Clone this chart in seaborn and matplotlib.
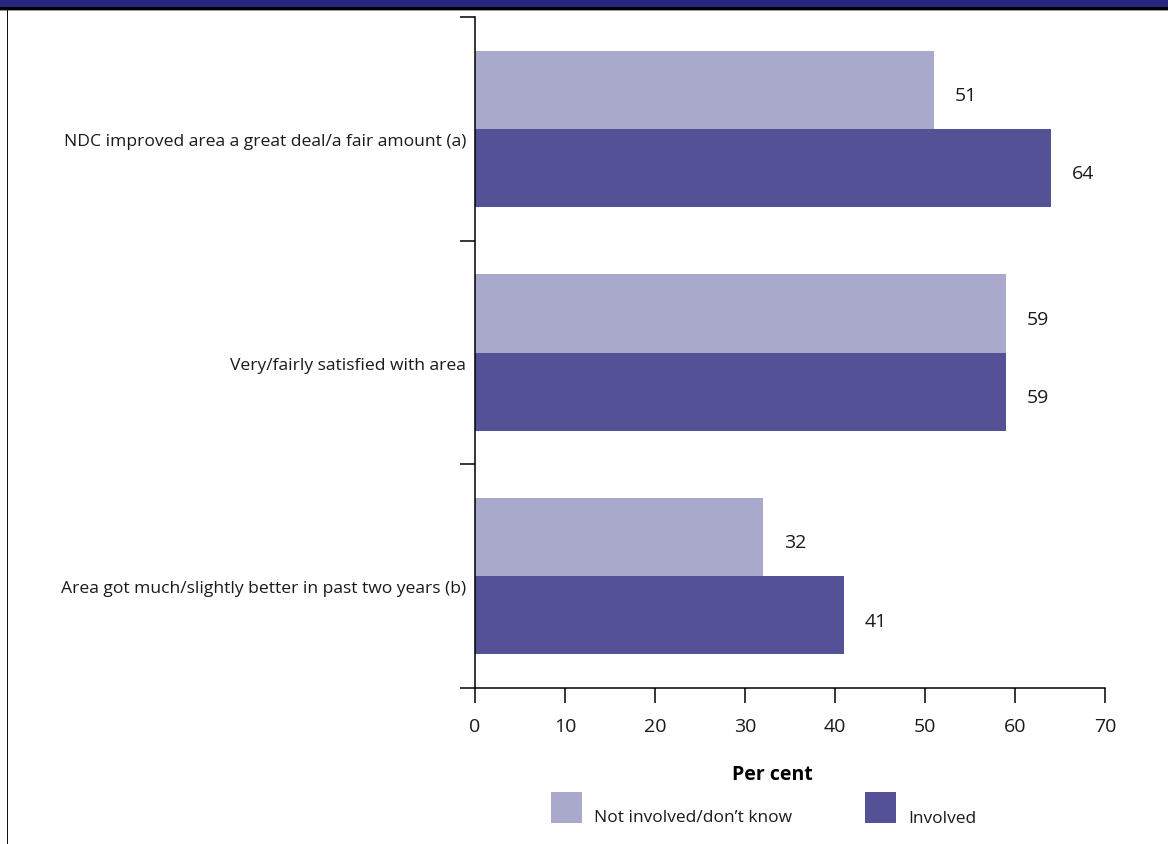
import matplotlib
matplotlib.use("Agg")
import matplotlib.pyplot as plt
from matplotlib.patches import Rectangle
from matplotlib.transforms import ScaledTranslation
import seaborn as sns
import pandas as pd

categories = [
    "NDC improved area a great deal/a fair amount (a)",
    "Very/fairly satisfied with area",
    "Area got much/slightly better in past two years (b)",
]
series_names = ["Not involved/don\u2019t know", "Involved"]
not_involved = [51, 59, 32]
involved = [64, 59, 41]
x_ticks = [0, 10, 20, 30, 40, 50, 60, 70]
colors = ["#A9A9CB", "#545196"]

df = pd.DataFrame({
    "category": categories * 2,
    "group": [series_names[0]] * 3 + [series_names[1]] * 3,
    "value": not_involved + involved,
})

sns.set_theme(style="white")
plt.rcParams["font.family"] = ["Open Sans", "DejaVu Sans"]
TXT = "#1a1a1a"

W, H = 1168, 844
fig = plt.figure(figsize=(W / 100, H / 100), dpi=100)
ax = fig.add_axes([475 / W, 1 - 688 / H, (1105 - 475) / W, (688 - 17) / H])

sns.barplot(data=df, y="category", x="value", hue="group", hue_order=series_names,
            palette=colors, orient="h", width=0.7, saturation=1, ax=ax,
            legend=False, errorbar=None, linewidth=0)

ax.set_xlim(0, 70)
ax.set_ylim(2.5, -0.5)
ax.set_xticks(x_ticks)
ax.set_xticklabels([str(t) for t in x_ticks], fontsize=14, color=TXT)
ax.set_yticks(range(len(categories)))
ax.set_yticklabels(categories, fontsize=12.6, color=TXT)
ax.set_yticks([-0.5, 0.5, 1.5, 2.5], minor=True)
ax.tick_params(axis="y", which="major", length=0, pad=6.5)
ax.tick_params(axis="y", which="minor", length=10.8, width=1.1, direction="out", color="black", left=True)
ax.tick_params(axis="x", which="major", length=10.8, width=1.1, direction="out", color="black", pad=11, bottom=True)
for lab in ax.get_yticklabels():
    lab.set_transform(lab.get_transform() + ScaledTranslation(0, -0.11, fig.dpi_scale_trans))

ax.set_xlabel("")
ax.set_ylabel("")
for s in ["top", "right"]:
    ax.spines[s].set_visible(False)
for s in ["left", "bottom"]:
    ax.spines[s].set_color("black")
    ax.spines[s].set_linewidth(1.1)
ax.grid(False)

# value labels, placed from the drawn bars
for cont in ax.containers:
    for patch, v in zip(cont.patches, cont.datavalues):
        ax.annotate(f"{v:g}", xy=(patch.get_width(), patch.get_y() + patch.get_height() / 2),
                    xytext=(15, -4.5), textcoords="offset points", ha="left", va="center",
                    fontsize=14, color=TXT)

# x-axis title
fig.text(772 / W, 1 - 780 / H, "Per cent", ha="center", va="baseline",
         fontsize=14, fontweight="bold", color="black")

# legend
leg_items = [(551, 594, series_names[0], colors[0], 822), (865, 908, series_names[1], colors[1], 823)]
for sx, tx, name, col, base in leg_items:
    fig.add_artist(Rectangle((sx / W, 1 - 823 / H), 31 / W, 31 / H,
                             transform=fig.transFigure, facecolor=col, edgecolor="none"))
    fig.text(tx / W, 1 - base / H, name, ha="left", va="baseline", fontsize=12.5, color=TXT)

# header banner and frame
fig.add_artist(Rectangle((0, 1 - 7 / H), 1, 7 / H, transform=fig.transFigure,
                         facecolor="#27277F", edgecolor="none"))
fig.add_artist(Rectangle((0, 1 - 10 / H), 1, 3 / H, transform=fig.transFigure,
                         facecolor="#000000", edgecolor="none"))
fig.add_artist(Rectangle((0, 1 - 11 / H), 1, 1 / H, transform=fig.transFigure,
                         facecolor="#9a9a9a", edgecolor="none"))
fig.add_artist(Rectangle((6.5 / W, 0), 1.8 / W, 1 - 10 / H, transform=fig.transFigure,
                         facecolor="#111111", edgecolor="none"))

fig.savefig("out.png", dpi=100)
